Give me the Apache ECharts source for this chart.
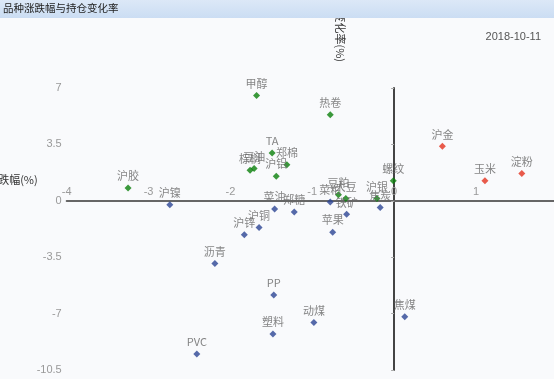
<!DOCTYPE html>
<html>
<head>
<meta charset="utf-8">
<script src="https://cdn.jsdelivr.net/npm/echarts@6/dist/echarts.min.js"></script>
<style>
html,body{margin:0;padding:0;background:#f9fafc;}
#chart{width:554px;height:379px;}
</style>
</head>
<body>
<div id="chart"></div>
<script>
const titleText = '品种涨跌幅与持仓变化率';
const dateText = '2018-10-11';
const xAxisName = '涨跌幅(%)';
const yAxisName = '持仓变化率(%)';

const greenNames = ['沪胶','甲醇','热卷','TA','郑棉','沪铝','棕榈','豆油','螺纹','沪银','豆粕','大豆'];
const greenX = [-3.25,-1.68,-0.78,-1.49,-1.31,-1.44,-1.76,-1.71,-0.01,-0.21,-0.68,-0.59];
const greenY = [0.79,6.54,5.34,2.96,2.24,1.52,1.89,2.01,1.25,0.14,0.38,0.14];

const redNames = ['沪金','玉米','淀粉'];
const redX = [0.59,1.11,1.56];
const redY = [3.38,1.25,1.69];

const blueNames = ['沪镍','菜粕','菜油','郑糖','沪铜','沪锌','沥青','PP','塑料','动煤','PVC','焦煤','铁矿','苹果','焦炭'];
const blueX = [-2.74,-0.78,-1.46,-1.22,-1.65,-1.83,-2.19,-1.47,-1.48,-0.98,-2.41,0.13,-0.58,-0.75,-0.17];
const blueY = [-0.24,-0.08,-0.51,-0.69,-1.66,-2.10,-3.89,-5.84,-8.26,-7.55,-9.50,-7.20,-0.84,-1.95,-0.42];

const xTicks = {min:-4, max:2, interval:1};
const yTicks = {min:-10.5, max:7, interval:3.5};

function toData(names, xs, ys){
  return names.map((n,i)=>({name:n, value:[xs[i], ys[i]]}));
}

const labelStyle = {
  show:true, position:'top', distance:3, formatter:'{b}',
  color:'#666', fontSize:11, fontFamily:'Noto Sans CJK SC'
};

function mkSeries(names, xs, ys, color){
  return {
    type:'scatter', symbol:'diamond', symbolSize:7,
    itemStyle:{color:color},
    label:labelStyle,
    emphasis:{disabled:true},
    data:toData(names, xs, ys)
  };
}

const chart = echarts.init(document.getElementById('chart'), null, {renderer:'canvas'});
chart.setOption({
  backgroundColor:'#f9fafc',
  animation:false,
  graphic:[{
    type:'rect', left:0, top:0, z:50,
    shape:{width:554, height:18},
    style:{fill:new echarts.graphic.LinearGradient(0,0,0,1,[{offset:0,color:'#dce8f7'},{offset:1,color:'#cbddf3'}])}
  }],
  title:[{
    text:titleText, left:3, top:3, z:60, padding:0,
    textStyle:{fontSize:10.5, fontWeight:'normal', color:'#222', fontFamily:'Noto Sans CJK SC'}
  },{
    text:dateText, right:13, top:31, padding:0,
    textStyle:{fontSize:11, fontWeight:'normal', color:'#555', fontFamily:'Liberation Sans'}
  }],
  grid:{left:66.7, right:-3.8, top:88, bottom:9, containLabel:false, outerBoundsMode:'none'},
  xAxis:{
    type:'value', position:'top', min:xTicks.min, max:xTicks.max, interval:xTicks.interval,
    name:xAxisName, nameLocation:'start', nameGap:29, nameMoveOverlap:false,
    nameTextStyle:{color:'#333', fontSize:11, fontFamily:'Noto Sans CJK SC', verticalAlign:'bottom', lineHeight:42},
    axisLine:{onZero:true, lineStyle:{color:'#666', width:2}},
    axisTick:{show:false},
    axisLabel:{margin:3, color:'#999', fontSize:11, fontFamily:'Liberation Sans', showMaxLabel:false,
               verticalAlign:'top', lineHeight:213},
    splitLine:{show:false}
  },
  yAxis:{
    type:'value', min:yTicks.min, max:yTicks.max, interval:yTicks.interval,
    name:yAxisName, nameLocation:'end', nameGap:26, nameRotate:-90, nameMoveOverlap:false,
    nameTextStyle:{color:'#333', fontSize:11, fontFamily:'Noto Sans CJK SC', verticalAlign:'top', lineHeight:108},
    axisLine:{onZero:true, lineStyle:{color:'#444', width:2}},
    axisTick:{show:true, length:3, lineStyle:{color:'#aaa'}},
    axisLabel:{margin:5, color:'#999', fontSize:11, fontFamily:'Liberation Sans'},
    splitLine:{show:false}
  },
  series:[
    mkSeries(greenNames, greenX, greenY, '#0a800a'),
    mkSeries(redNames, redX, redY, '#e3321e'),
    mkSeries(blueNames, blueX, blueY, '#2c4593')
  ]
});
</script>
</body>
</html>
